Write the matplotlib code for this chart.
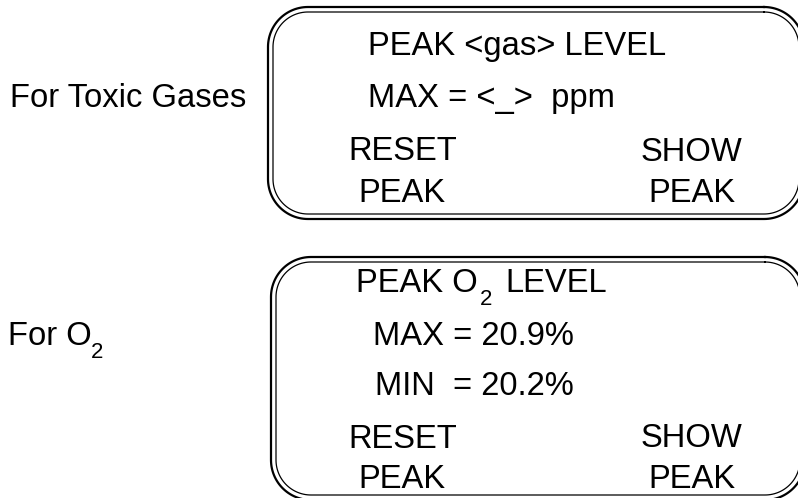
import numpy as np
import matplotlib.pyplot as plt

plt.rcParams['font.family'] = ['Liberation Sans', 'DejaVu Sans']

# texts of the two display screens
row_labels = ["For Toxic Gases", "For O"]
toxic_lines = ["PEAK <gas> LEVEL", "MAX = <_>  ppm"]
o2_title = ["PEAK O", "2", "LEVEL"]
o2_lines = ["MAX = 20.9%", "MIN  = 20.2%"]
left_button = ["RESET", "PEAK"]
right_button = ["SHOW", "PEAK"]
subscript = "2"

FS = 23.6
SUB_FS = 16


def rounded_rect(x0, y0, x1, y1, r):
    # corner arcs, y axis points down
    t = np.linspace(0, np.pi / 2, 30)
    xs, ys = [], []
    corners = [(x1 - r, y0 + r, -np.pi / 2), (x1 - r, y1 - r, 0),
               (x0 + r, y1 - r, np.pi / 2), (x0 + r, y0 + r, np.pi)]
    for cx, cy, a0 in corners:
        xs.extend(cx + r * np.cos(a0 + t))
        ys.extend(cy + r * np.sin(a0 + t))
    xs.append(xs[0])
    ys.append(ys[0])
    return xs, ys


def screen(ax, x0, y0, x1, y1, r=40, gap=5):
    xs, ys = rounded_rect(x0, y0, x1, y1, r)
    ax.plot(xs, ys, color='black', lw=1.6)
    xs, ys = rounded_rect(x0 + gap, y0 + gap, x1 - gap, y1 - gap, r - gap)
    ax.plot(xs, ys, color='black', lw=0.9)


def txt(ax, x, y, s, size=FS):
    ax.text(x, y, s, fontsize=size, ha='left', va='baseline', color='black')


fig = plt.figure(figsize=(7.98, 4.98), dpi=100)
ax = fig.add_axes([0, 0, 1, 1])
ax.set_xlim(0, 798)
ax.set_ylim(498, 0)
ax.axis('off')

# toxic gases screen
screen(ax, 268, 7, 804, 219)
txt(ax, 10, 107, row_labels[0])
txt(ax, 368, 55, toxic_lines[0])
txt(ax, 368, 107, toxic_lines[1])
txt(ax, 348, 160, left_button[0])
txt(ax, 358, 202, left_button[1])
txt(ax, 641, 161, right_button[0])
txt(ax, 648, 202, right_button[1])

# O2 screen
screen(ax, 271, 257, 805, 500)
txt(ax, 8, 345, row_labels[1])
txt(ax, 91, 358, subscript, SUB_FS)
txt(ax, 356, 292, o2_title[0])
txt(ax, 480, 305, o2_title[1], SUB_FS)
txt(ax, 505, 292, o2_title[2])
txt(ax, 373, 345, o2_lines[0])
txt(ax, 375, 395, o2_lines[1])
txt(ax, 348, 448, left_button[0])
txt(ax, 358, 488, left_button[1])
txt(ax, 641, 447, right_button[0])
txt(ax, 648, 488, right_button[1])

fig.savefig('out.png', dpi=100)
